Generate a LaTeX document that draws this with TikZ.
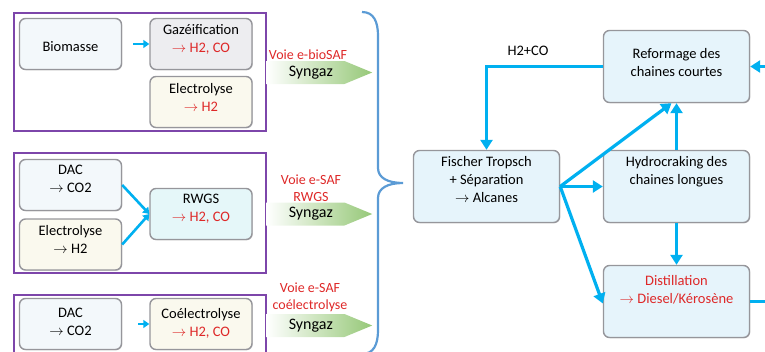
\documentclass[tikz,border=0pt]{standalone}
\usepackage{fontspec}
\setmainfont{Carlito}
\usetikzlibrary{shapes.symbols, arrows.meta, shadows}
\definecolor{framepurple}{RGB}{125,70,170}
\definecolor{flowblue}{RGB}{0,176,240}
\definecolor{braceblue}{RGB}{91,155,213}
\definecolor{voiered}{RGB}{222,40,40}
\definecolor{boxgray}{RGB}{150,150,155}
\definecolor{syngreen}{RGB}{150,200,120}
\definecolor{rightblue}{RGB}{230,244,251}
\definecolor{paleblue}{RGB}{243,248,251}
\definecolor{palegray}{RGB}{237,237,240}
\definecolor{cream}{RGB}{250,249,238}
\definecolor{cyanpale}{RGB}{229,247,249}
\tikzstyle{box} = [draw=boxgray, line width=1.4pt, rounded corners=6pt, drop shadow={shadow xshift=0.8pt, shadow yshift=-0.8pt, opacity=0.3}]
\tikzstyle{lbox} = [box, minimum width=102pt, minimum height=51pt]
\tikzstyle{rbox} = [box, fill=rightblue, minimum width=146pt, minimum height=72pt]
\tikzstyle{txt} = [anchor=north, align=center, font=\fontsize{14.5}{18}\selectfont, yshift=-3pt]
\tikzstyle{frame} = [draw=framepurple, line width=1.3pt]
\tikzstyle{flow} = [draw=flowblue, line width=3.2pt, -{Triangle[length=10pt,width=12pt]}]
\tikzstyle{sflow} = [draw=flowblue, line width=2.6pt, -{Triangle[length=6pt,width=8pt]}]
\tikzstyle{syngaz} = [signal, signal to=east, signal pointer angle=45, left color=white, right color=syngreen, minimum width=106pt, minimum height=23pt, anchor=west, inner sep=0pt, font=\fontsize{16}{18}\selectfont]
\tikzstyle{voie} = [text=voiered, align=center, font=\fontsize{14}{17}\selectfont]

\begin{document}
\begin{tikzpicture}[x=1pt, y=-1pt]
	\useasboundingbox (0,0) rectangle (765,351);

	% voie e-bioSAF
	\draw [frame] (14,13) rectangle (266,131);
	\node [lbox, fill=paleblue, label={[txt, yshift=-17pt]north:{Biomasse}}] (bio) at (70.5,44) {};
	\node [lbox, fill=palegray, label={[txt]north:{Gazéification\\{\color{voiered}$\rightarrow$ H2, CO}}}] (gaz) at (201,44) {};
	\node [lbox, fill=cream, label={[txt, yshift=-1pt]north:{Electrolyse\\{\color{voiered}$\rightarrow$ H2}}}] (elec1) at (201,102) {};
	\node [voie] (voie1) at (308,55) {Voie e-bioSAF};
	\node [syngaz] (syn1) at (266,72.5) {\hspace*{11pt}Syngaz};

	% voie e-SAF RWGS
	\draw [frame] (14,153) rectangle (266,273);
	\node [lbox, fill=paleblue, label={[txt]north:{DAC\\$\rightarrow$ CO2}}] (dac2) at (70.5,185) {};
	\node [lbox, fill=cream, label={[txt, yshift=-1pt]north:{Electrolyse\\$\rightarrow$ H2}}] (elec2) at (70.5,244.5) {};
	\node [lbox, fill=cyanpale, label={[txt]north:{RWGS\\{\color{voiered}$\rightarrow$ H2, CO}}}] (rwgs) at (201,214) {};
	\node [voie] (voie2) at (311,188.5) {Voie e-SAF\\RWGS};
	\node [syngaz] (syn2) at (266,214) {\hspace*{11pt}Syngaz};

	% voie e-SAF coelectrolyse
	\draw [frame] (14,295) rectangle (266,365);
	\node [lbox, fill=paleblue, label={[txt, yshift=-4pt]north:{DAC\\$\rightarrow$ CO2}}] (dac3) at (70.5,324) {};
	\node [lbox, fill=cream, label={[txt, yshift=-4pt]north:{Coélectrolyse\\{\color{voiered}$\rightarrow$ H2, CO}}}] (coel) at (201,324) {};
	\node [voie] (voie3) at (310,297.5) {Voie e-SAF\\coélectrolyse};
	\node [syngaz] (syn3) at (266,325.5) {\hspace*{11pt}Syngaz};

	\path [sflow, shorten <=11pt] (bio.east) -- (gaz.west);
	\path [sflow] (dac2.east) -- (rwgs.west);
	\path [sflow] (elec2.east) -- (rwgs.west);
	\path [sflow, shorten <=16pt] (dac3.east) -- (coel.west);

	% accolade
	\draw [braceblue, line width=2.2pt] (362,12) .. controls (374,12) and (378,22) .. (378,36) -- (378,168) .. controls (378,178) and (388,183) .. (403,183)
		.. controls (388,183) and (378,188) .. (378,198) -- (378,330) .. controls (378,344) and (374,354) .. (362,354);

	% procede
	\node [rbox, label={[txt, yshift=-12pt]north:{Reformage des\\chaines courtes}}] (reform) at (676.5,66.5) {};
	\node [rbox, label={[txt]north:{Fischer Tropsch\\+ Séparation\\$\rightarrow$ Alcanes}}] (ft) at (486.5,186.5) {};
	\node [rbox, label={[txt]north:{Hydrocraking des\\chaines longues}}] (hydro) at (676.5,186.5) {};
	\node [rbox, label={[txt, yshift=-4pt, text=voiered]north:{Distillation\\$\rightarrow$ Diesel/Kérosène}}] (distil) at (676.5,301.5) {};
	\node [font=\fontsize{14.5}{18}\selectfont] (h2co) at (528,51) {H2+CO};
	\coordinate (rb) at (790,301.5);
	\coordinate (rt) at (790,66.5);

	\path [flow] (reform.west) -| (ft.north);
	\path [flow] (ft.east) -- ([xshift=-5pt]reform.south);
	\path [flow] (ft.east) -- (hydro.west);
	\path [flow] (ft.east) -- ([yshift=-2pt]distil.west);
	\path [flow] (hydro.north) -- (reform.south);
	\path [flow] (hydro.south) -- (distil.north);
	\path [flow] (distil.east) -- (rb) -- (rt) -- (reform.east);
\end{tikzpicture}
\end{document}
